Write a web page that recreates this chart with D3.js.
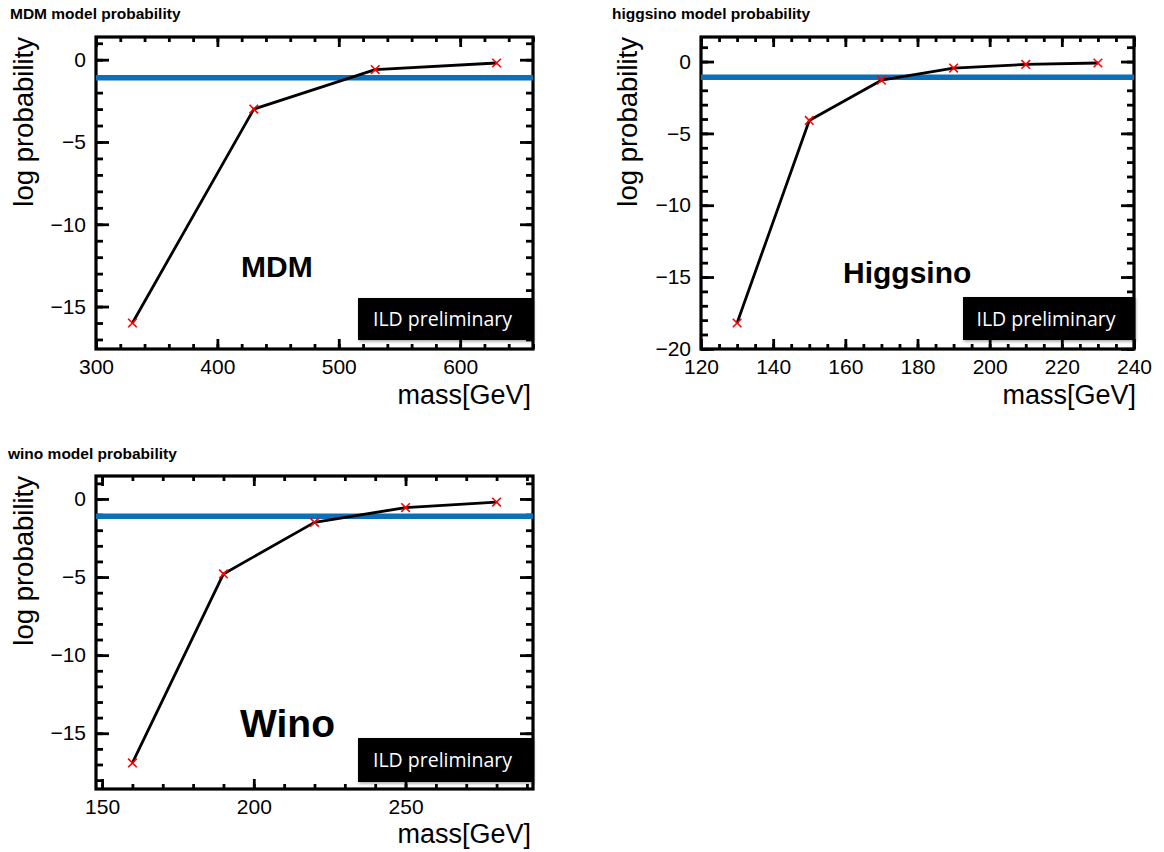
<!DOCTYPE html>
<html>
<head>
<meta charset="utf-8">
<script src="https://cdn.jsdelivr.net/npm/d3@7"></script>
<style>
  html, body { margin: 0; padding: 0; background: #fff; }
  svg { display: block; }
  text { font-family: "Liberation Sans", Arial, Helvetica, sans-serif; }
</style>
</head>
<body>
<svg id="chart" width="1164" height="852"></svg>
<script>
// ---------------- data ----------------
const mdmMass = [330, 430, 530, 630];
const mdmLogP = [-16.0, -3.0, -0.6, -0.2];

const higgsinoMass = [130, 150, 170, 190, 210, 230];
const higgsinoLogP = [-18.2, -4.1, -1.3, -0.45, -0.2, -0.1];

const winoMass = [160, 190, 220, 250, 280];
const winoLogP = [-16.9, -4.8, -1.5, -0.55, -0.2];

// blue reference line: log(1/3)
const thresholdLogP = -1.1;

// tick values
const mdmXTicks = [300, 400, 500, 600];
const higgsinoXTicks = [120, 140, 160, 180, 200, 220, 240];
const winoXTicks = [150, 200, 250];
const mdmYTicks = [0, -5, -10, -15];
const higgsinoYTicks = [0, -5, -10, -15, -20];
const winoYTicks = [0, -5, -10, -15];

const panelTitles = ["MDM model probability", "higgsino model probability", "wino model probability"];
const modelNames = ["MDM", "Higgsino", "Wino"];
const watermark = "ILD preliminary";
const xTitle = "mass[GeV]";
const yTitle = "log probability";

// ---------------- layout ----------------
const svg = d3.select("#chart");
const defs = svg.append("defs");
const f = defs.append("filter").attr("id", "shadow").attr("x", "-10%").attr("y", "-20%").attr("width", "120%").attr("height", "150%");
f.append("feDropShadow").attr("dx", 1).attr("dy", 1.5).attr("stdDeviation", 1.5).attr("flood-color", "#000").attr("flood-opacity", 0.35);

function rootRange(vals) {
  const lo = d3.min(vals), hi = d3.max(vals), r = hi - lo;
  return [lo - 0.1 * r, hi + 0.1 * r];
}
function range(a, b, s) {
  const out = [];
  for (let v = a; v <= b + 1e-9; v += s) out.push(+v.toFixed(6));
  return out;
}

const panels = [
  { mass: mdmMass, logp: mdmLogP, xt: mdmXTicks, yt: mdmYTicks, xMinorStep: 20, yMinorStep: 1,
    box: { l: 96, r: 533, t: 37, b: 349 }, title: [panelTitles[0], 10, 19],
    yLabX: 33, xLabY: 404, xLabEnd: 531,
    name: [modelNames[0], 241, 277, 30], wm: { x: 358, y: 298, w: 175, h: 42 } },
  { mass: higgsinoMass, logp: higgsinoLogP, xt: higgsinoXTicks, yt: higgsinoYTicks, xMinorStep: 5, yMinorStep: 1,
    box: { l: 701, r: 1134, t: 37, b: 349 }, title: [panelTitles[1], 612, 19],
    yLabX: 637, xLabY: 404, xLabEnd: 1136,
    name: [modelNames[1], 843, 283, 30], wm: { x: 963, y: 297, w: 172, h: 43 } },
  { mass: winoMass, logp: winoLogP, xt: winoXTicks, yt: winoYTicks, xMinorStep: 10, yMinorStep: 1,
    box: { l: 96, r: 533, t: 476, b: 789 }, title: [panelTitles[2], 8, 459],
    yLabX: 33, xLabY: 843, xLabEnd: 531,
    name: [modelNames[2], 240, 737, 39], wm: { x: 358, y: 738, w: 175, h: 44 } }
];

panels.forEach(p => {
  const xd = rootRange(p.mass), yd = rootRange(p.logp);
  const x = d3.scaleLinear().domain(xd).range([p.box.l, p.box.r]);
  const y = d3.scaleLinear().domain(yd).range([p.box.b, p.box.t]);
  const g = svg.append("g");

  // title
  g.append("text").attr("x", p.title[1]).attr("y", p.title[2])
    .attr("font-size", 15.5).attr("font-weight", "bold").attr("fill", "#000").text(p.title[0]);

  // minor tick arrays
  const xMinor = range(Math.ceil(xd[0] / p.xMinorStep) * p.xMinorStep, xd[1], p.xMinorStep);
  const yMinor = range(Math.ceil(yd[0] / p.yMinorStep) * p.yMinorStep, yd[1], p.yMinorStep);

  const styleAxis = sel => {
    sel.select(".domain").remove();
    sel.selectAll(".tick line").attr("stroke", "#000").attr("stroke-width", 2.8);
    sel.selectAll(".tick text").attr("font-size", 21).attr("fill", "#000")
      .attr("font-family", '"Liberation Sans", Arial, sans-serif');
  };
  const H = p.box.b - p.box.t, W = p.box.r - p.box.l;

  // bottom axis
  g.append("g").attr("transform", `translate(0,${p.box.b})`)
    .call(d3.axisBottom(x).tickValues(xMinor).tickSize(-5).tickFormat("")).call(styleAxis);
  g.append("g").attr("transform", `translate(0,${p.box.b})`)
    .call(d3.axisBottom(x).tickValues(p.xt).tickSize(-10).tickPadding(10).tickFormat(d3.format("d"))).call(styleAxis);
  // top axis
  g.append("g").attr("transform", `translate(0,${p.box.t})`)
    .call(d3.axisTop(x).tickValues(xMinor).tickSize(-5).tickFormat("")).call(styleAxis);
  g.append("g").attr("transform", `translate(0,${p.box.t})`)
    .call(d3.axisTop(x).tickValues(p.xt).tickSize(-10).tickFormat("")).call(styleAxis);
  // left axis
  g.append("g").attr("transform", `translate(${p.box.l},0)`)
    .call(d3.axisLeft(y).tickValues(yMinor).tickSize(-7).tickFormat("")).call(styleAxis);
  g.append("g").attr("transform", `translate(${p.box.l},0)`)
    .call(d3.axisLeft(y).tickValues(p.yt).tickSize(-13).tickPadding(10).tickFormat(d3.format("d"))).call(styleAxis);
  // right axis
  g.append("g").attr("transform", `translate(${p.box.r},0)`)
    .call(d3.axisRight(y).tickValues(yMinor).tickSize(-7).tickFormat("")).call(styleAxis);
  g.append("g").attr("transform", `translate(${p.box.r},0)`)
    .call(d3.axisRight(y).tickValues(p.yt).tickSize(-13).tickFormat("")).call(styleAxis);

  // frame
  g.append("rect").attr("x", p.box.l).attr("y", p.box.t).attr("width", W).attr("height", H)
    .attr("fill", "none").attr("stroke", "#000").attr("stroke-width", 3.2);

  // blue threshold line
  g.append("line").attr("x1", x(xd[0])).attr("x2", x(xd[1]))
    .attr("y1", y(thresholdLogP)).attr("y2", y(thresholdLogP))
    .attr("stroke", "#0b6fba").attr("stroke-width", 5.5);

  // data line
  const pts = p.mass.map((m, i) => [m, p.logp[i]]);
  g.append("path").datum(pts)
    .attr("d", d3.line().x(d => x(d[0])).y(d => y(d[1])))
    .attr("fill", "none").attr("stroke", "#000").attr("stroke-width", 2.8).attr("stroke-linejoin", "round");

  // markers
  const s = 4.3;
  g.selectAll(".mk").data(pts).enter().append("path")
    .attr("d", d => { const cx = x(d[0]), cy = y(d[1]);
      return `M${cx - s},${cy - s}L${cx + s},${cy + s}M${cx - s},${cy + s}L${cx + s},${cy - s}`; })
    .attr("stroke", "#ff0000").attr("stroke-width", 1.6).attr("fill", "none");

  // model name
  g.append("text").attr("x", p.name[1]).attr("y", p.name[2])
    .attr("font-size", p.name[3]).attr("font-weight", "bold").attr("fill", "#000").text(p.name[0]);

  // watermark box
  g.append("rect").attr("x", p.wm.x).attr("y", p.wm.y).attr("width", p.wm.w).attr("height", p.wm.h)
    .attr("fill", "#000").attr("filter", "url(#shadow)");
  g.append("text").attr("x", p.wm.x + p.wm.w / 2 - 3).attr("y", p.wm.y + p.wm.h / 2 + 7)
    .attr("text-anchor", "middle").attr("font-size", 19.5).attr("fill", "#fff")
    .style("font-family", '"Open Sans", "Noto Sans", sans-serif').text(watermark);

  // axis titles
  g.append("text").attr("x", p.xLabEnd).attr("y", p.xLabY).attr("text-anchor", "end")
    .attr("font-size", 27).attr("fill", "#000").text(xTitle);
  g.append("text").attr("transform", `translate(${p.yLabX},${p.box.t}) rotate(-90)`)
    .attr("text-anchor", "end").attr("font-size", 27.5).attr("fill", "#000").text(yTitle);
});
</script>
</body>
</html>
